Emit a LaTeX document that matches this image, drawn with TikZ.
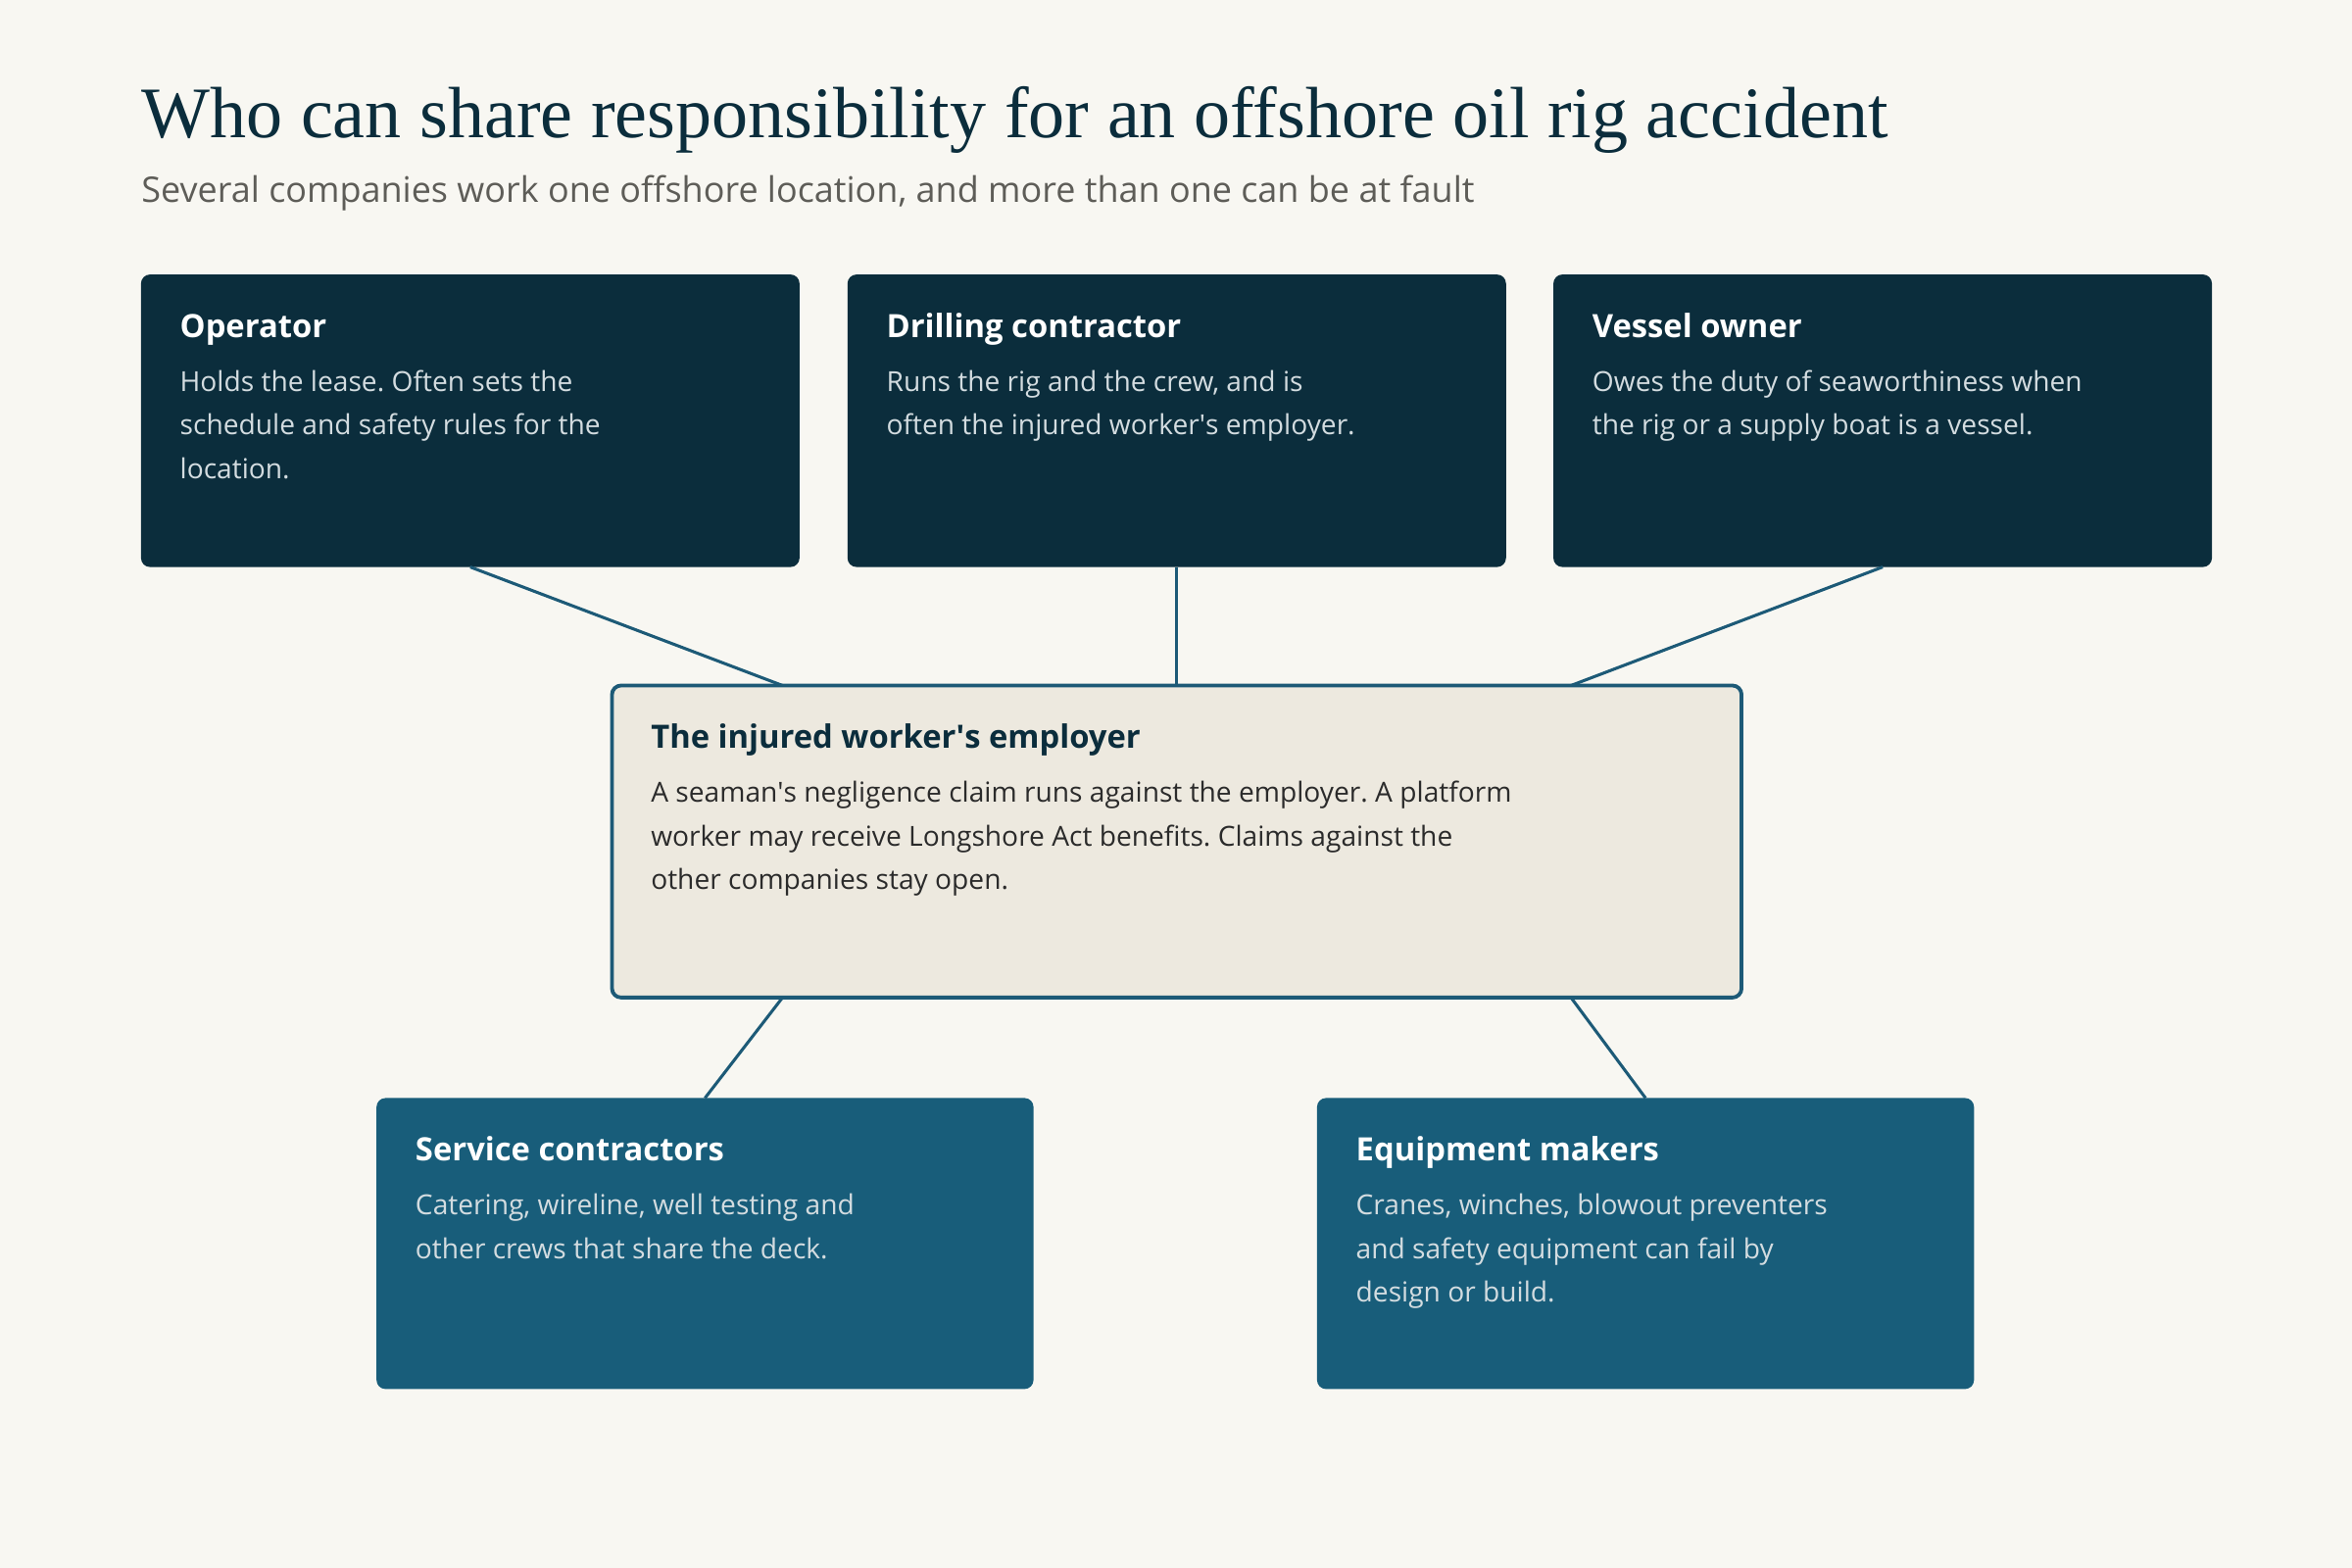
\documentclass[tikz,border=0pt]{standalone}
\usepackage{fontspec}
\setmainfont{Open Sans}
\newfontfamily\headfont{Liberation Serif}
\usetikzlibrary{positioning, calc}
\definecolor{paper}{HTML}{F8F7F2}
\definecolor{navy}{HTML}{0B2D3C}
\definecolor{seablue}{HTML}{185D7A}
\definecolor{sand}{HTML}{EDE9DF}
\definecolor{linkblue}{HTML}{1D5A77}
\definecolor{mist}{HTML}{D3DCE0}
\definecolor{ink}{HTML}{2B2B2B}
\definecolor{subgrey}{HTML}{5E5D58}
\frenchspacing
\tikzset{
  party/.style={
    rectangle,
    rounded corners=3pt,
    fill=navy,
    text=mist,
    inner xsep=13pt, inner ysep=0pt, outer sep=0pt,
    anchor=north west,
    font=\fontsize{9.2}{14.5}\selectfont
  },
  crew/.style={
    party,
    fill=seablue
  },
  employer/.style={
    party,
    fill=sand,
    draw=linkblue, line width=1.25pt,
    text=ink
  },
  link/.style={
    draw=linkblue,
    line width=1pt
  }
}
\newcommand*\apos{\textquotesingle}
% box text: width, height, title colour, title, body
\newcommand*\card[5]{\parbox[t][#2][t]{#1}{%
  \rule{0pt}{21pt}{\fontsize{10.7}{14}\selectfont\bfseries\color{#3}#4}\par
  \vspace{3.5pt}#5}}

\begin{document}
\begin{tikzpicture}[x=0.5pt, y=-0.5pt]
\fill[paper] (0,0) rectangle (1568,1045.3);
\useasboundingbox (0,0) rectangle (1568,1045.3);

% heading
\node[anchor=base west, inner sep=0pt, text=navy, font=\headfont\fontsize{24.2}{28}\selectfont]
  (title) at (94,92) {Who can share responsibility for an offshore oil rig accident};
\node[anchor=base west, inner sep=0pt, text=subgrey, font=\fontsize{11.75}{14}\selectfont]
  (subtitle) at (94,135) {Several companies work one offshore location, and more than one can be at fault};

% nodes
\node[party] (op) at (94,183)
  {\card{193.5pt}{97.5pt}{white}{Operator}{Holds the lease. Often sets the\\
   schedule and safety rules for the\\ location.}};

\node[party, right = 16pt of op.north east, anchor=north west] (dri)
  {\card{193.5pt}{97.5pt}{white}{Drilling contractor}{Runs the rig and the crew, and is\\
   often the injured worker\apos s employer.}};

\node[party, right = 15.8pt of dri.north east, anchor=north west] (ves)
  {\card{193.5pt}{97.5pt}{white}{Vessel owner}{Owes the duty of seaworthiness when\\
   the rig or a supply boat is a vessel.}};

\node[employer, below = 39.5pt of dri] (emp)
  {\card{350.5pt}{104pt}{navy}{The injured worker\apos s employer}{A seaman\apos s negligence claim runs against the employer. A platform\\
   worker may receive Longshore Act benefits. Claims against the\\ other companies stay open.}};

\node[crew] (svc) at (251,732)
  {\card{193pt}{97pt}{white}{Service contractors}{Catering, wireline, well testing and\\
   other crews that share the deck.}};

\node[crew, right = 94.5pt of svc.north east, anchor=north west] (eqp)
  {\card{193pt}{97pt}{white}{Equipment makers}{Cranes, winches, blowout preventers\\
   and safety equipment can fail by\\ design or build.}};

% edges
\coordinate (empL) at ($(emp.north west)!0.151!(emp.north east)$);
\coordinate (empR) at ($(emp.north west)!0.849!(emp.north east)$);
\coordinate (empBL) at ($(emp.south west)!0.151!(emp.south east)$);
\coordinate (empBR) at ($(emp.south west)!0.849!(emp.south east)$);

\draw [link] (op.south) -- (empL);
\draw [link] (dri.south) -- (dri.south |- emp.north);
\draw [link] (ves.south) -- (empR);
\draw [link] (empBL) -- (svc.north);
\draw [link] (empBR) -- (eqp.north);

\end{tikzpicture}
\end{document}
